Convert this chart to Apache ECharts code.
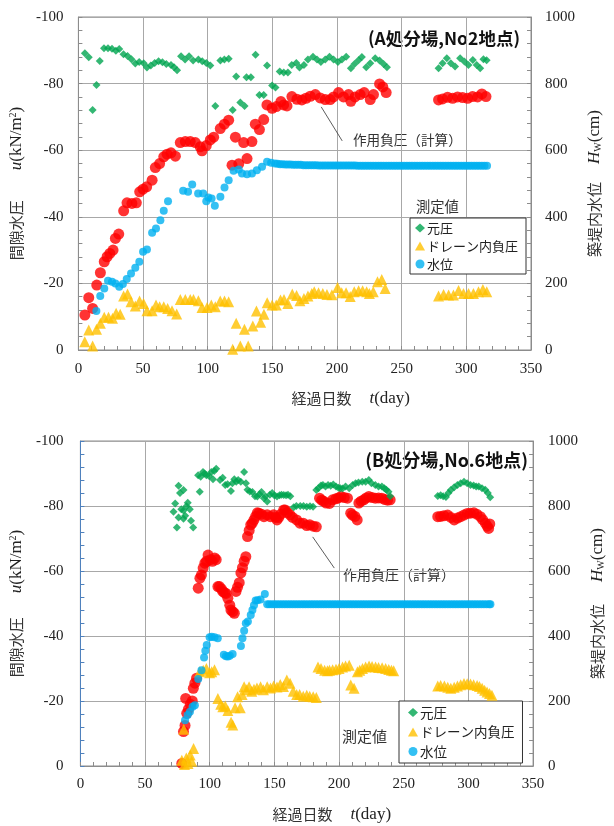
<!DOCTYPE html>
<html><head><meta charset="utf-8">
<script src="https://cdn.jsdelivr.net/npm/echarts@6/dist/echarts.min.js"></script>
<style>html,body{margin:0;padding:0;background:#fff}#c{width:614px;height:826px}</style>
</head><body><div id="c"></div>
<script>
// ---------- Panel A (top) : [day, value] ----------
const topGenatsu = [[5,-89.1],[8,-87.9],[11,-72.1],[14,-79.6],[16.5,-86.8],[19.8,-90.6],[22.9,-90.6],[26,-90.5],[29,-89.9],[31.6,-90.4],[34.9,-88.8],[38,-88.3],[41,-87.3],[44,-86],[47,-86.5],[50.5,-86.1],[53,-84.8],[56,-85.4],[59,-86.2],[62,-86.7],[65,-86.4],[68,-85.9],[71.6,-85.6],[74,-84.9],[76.3,-84],[79.4,-88.2],[82.5,-87.2],[85.6,-88.2],[88.7,-86.9],[92.8,-87.2],[95.8,-86.7],[98.9,-86.2],[102,-85.4],[105.9,-73.3],[109.8,-86.9],[112.9,-87.2],[116.2,-87.5],[119.3,-72.1],[122,-82.1],[125.2,-74.3],[128.5,-73.3],[130,-81.9],[133.4,-81.9],[137,-88.7],[140,-76.6],[143.3,-76.6],[145.9,-85.4],[149.8,-79.4],[152.4,-78.8],[155.7,-83.6],[158.8,-83.3],[162,-83.3],[165,-85.6],[168.5,-86.2],[171,-84.8],[174.4,-85.6],[177.5,-87.2],[181.4,-88.1],[184.5,-87.2],[187.5,-86.5],[190.9,-87.2],[194.2,-88.1],[197.3,-87.2],[200.7,-86.5],[203.8,-87.2],[207.1,-88.1],[210.7,-84.6],[213.5,-85.9],[216.6,-87],[219.2,-88],[222.6,-84.9],[225.7,-86.1],[229.5,-87.6],[232.9,-86.9],[236,-85.9],[238.6,-84.9],[278.5,-84.6],[281.6,-86.1],[284.9,-87.6],[288,-86.1],[291.3,-85.1],[295.2,-87.6],[298.5,-86.6],[301.6,-85.6],[305,-87.1],[308,-85.6],[310.7,-84.6],[313.2,-87.3],[315.7,-87]];
const topSayou = [[5,-10.5],[8,-15.7],[11,-12.5],[14.2,-19.5],[17,-23.2],[20,-26.5],[22.2,-28],[24.3,-29],[26.8,-30],[28.6,-33.5],[31.2,-34.8],[35,-41.8],[37.6,-44.2],[41.4,-44],[44.8,-44.2],[47.4,-47.5],[50,-48.3],[52.8,-49],[57,-51],[59.5,-54.8],[62.8,-56],[66,-58],[68.6,-58.8],[71.6,-59.2],[75,-58.2],[78.8,-62.3],[82.7,-62.6],[86.5,-62.6],[90.4,-62.3],[94.2,-61],[95.6,-59.8],[98.9,-61.4],[102,-63.1],[104.6,-63.9],[109.7,-66.5],[112.9,-67.8],[116.2,-69],[118.8,-55.5],[121.4,-63.9],[124,-55.9],[127.8,-62.3],[130.4,-57.5],[134.2,-62.6],[136.8,-67.8],[140,-66.2],[143.3,-69.2],[145.8,-73.6],[149.8,-72.6],[153.1,-73.1],[156.6,-74.6],[158.7,-73.6],[161.3,-73.3],[165.1,-76.1],[169,-75.3],[172.8,-75.1],[176,-75.6],[179.3,-76.2],[183.2,-76.7],[187,-75.7],[190.9,-75.2],[194.7,-75.2],[197.3,-76],[201.2,-77.3],[205,-76],[208.9,-76.7],[210.7,-74.7],[213.9,-76],[217.9,-76.7],[221,-77.3],[225.7,-75.2],[228.2,-76.7],[232.9,-79.9],[235.4,-79],[238,-77.3],[278.5,-75.1],[281.6,-75.4],[285.5,-75.9],[289.4,-75.6],[293.2,-76],[297.1,-75.8],[301,-75.6],[304.8,-76.1],[308.7,-76],[312,-76.9],[315.2,-76.1]];
const topDrain = [[4.9,-2.5],[8,-6],[11,-1.2],[14,-6.2],[17,-8],[20,-9.8],[23.3,-9.8],[26.4,-9.5],[29.2,-11],[32.3,-10.7],[35,-16.2],[38,-16.8],[40.7,-14.5],[44,-13.2],[47.3,-14.7],[50.4,-14],[53,-11.8],[57,-11.8],[60,-13.5],[62.8,-13],[66,-13],[69,-12.5],[72.4,-11.8],[76,-10.8],[78.8,-15.2],[82.7,-15.2],[86.5,-15.2],[89,-15.2],[92.8,-14.8],[95.6,-12.8],[99.5,-12.8],[102.8,-13.5],[105.9,-13],[109.7,-14.7],[113,-14.7],[116.2,-14.5],[119.3,-0.2],[122,-8],[125.2,-1.2],[128.4,-6.2],[131.3,-1.2],[134.9,-7.2],[137.7,-11.7],[140.9,-8.3],[143.5,-10.7],[146,-14.2],[149.8,-13.5],[153,-13.5],[156.3,-15],[159,-15.2],[162,-14],[165.4,-16.8],[168.7,-16.4],[171.3,-14.8],[174.4,-15.5],[177.5,-16.2],[180.5,-17],[182.4,-17.5],[185.7,-17.2],[189,-17],[192.2,-16.7],[196,-16.6],[200.4,-18.8],[203.6,-17.2],[207,-17.2],[210.2,-16.1],[213.3,-17.5],[216.7,-17.8],[219.8,-17.8],[222.9,-17.5],[225,-17],[228,-17.5],[231.3,-20.5],[234.6,-21.2],[237.2,-18.5],[278.5,-16.2],[282.4,-16.7],[286.3,-16.5],[290,-16.5],[294,-17.9],[297.8,-17],[301.7,-17],[305.5,-17],[309.4,-17.5],[312.8,-18.2],[315.8,-17.5]];
const topSuii = [[13.9,117],[16.9,162],[20,185],[22.9,208],[26,205],[28.6,200],[31.6,190],[34.4,198],[37.4,213],[40.7,230],[44,247],[47.1,265],[50,295],[53,302],[57,352],[60,365],[63.4,390],[66,418],[69.3,447],[81,478],[84.8,475],[88,497],[92.6,470],[96.5,470],[98.9,447],[100.5,458],[103,455],[105.5,433],[109.8,460],[113,488],[116.2,510],[120,538],[124,542],[126.5,530],[130.4,528],[134.2,530],[138,540],[142,550],[145.9,565],[149,562],[152,560],[154,559],[156,558],[158,558],[160,557],[162,557],[164,557],[166,556],[168,556],[170,556],[172,556],[174,555],[176,555],[178,555],[180,555],[182,555],[184,555],[186,554],[188,554],[190,554],[192,554],[194,554],[196,554],[198,554],[200,554],[202,554],[204,554],[206,554],[208,554],[210,554],[212,554],[214,554],[216,553],[218,553],[220,553],[222,553],[224,553],[226,553],[228,553],[230,553],[232,553],[234,553],[236,553],[238,553],[240,553],[242,553],[244,553],[246,553],[248,553],[250,553],[252,553],[254,553],[256,553],[258,553],[260,553],[262,553],[264,553],[266,553],[268,553],[270,553],[272,553],[274,553],[276,553],[278,553],[280,553],[282,553],[284,553],[286,553],[288,553],[290,553],[292,553],[294,553],[296,553],[298,553],[300,553],[302,553],[304,553],[306,553],[308,553],[310,553],[312,553],[314,553],[316,553]];

// ---------- Panel B (bottom) ----------
const botGenatsu = [[72,-78.2],[73.3,-80.8],[74.6,-73.4],[75.9,-86.2],[75.9,-76.5],[77,-84],[78,-79],[79.7,-84.9],[79.7,-78.6],[79.7,-76.1],[81,-77],[82,-79.9],[83,-81],[84.6,-79],[85.5,-75.5],[87.2,-73.4],[92.3,-84.4],[91,-89.5],[93,-89],[94.8,-90.5],[96,-90],[97.4,-89.5],[99.5,-89.2],[101.2,-90.5],[102.5,-88.2],[103.5,-90.8],[105,-91.5],[108,-88],[110,-88.7],[112,-86.5],[113.8,-86.7],[116.4,-84.6],[117.5,-87],[119,-88.2],[120.5,-87.5],[122,-88],[124,-87.5],[126.6,-90.5],[128,-87],[129.2,-85],[131,-84.5],[133,-84.3],[135,-83],[136.8,-82.9],[138.5,-83.6],[140,-84.3],[141.9,-82.4],[143,-83],[144.4,-81.4],[146.5,-83.5],[148.3,-84],[150,-83.2],[152,-82.9],[154,-83.3],[155.5,-83.5],[157.2,-83.4],[159,-83.3],[160.5,-83.5],[162.3,-83],[164.9,-79.6],[167,-80],[170,-80],[172.5,-80],[175,-79.8],[177.5,-79.9],[179.9,-79.8],[182.4,-84.9],[184,-85.5],[186,-86.3],[187.5,-86.5],[189.5,-86],[191.5,-86.5],[193.5,-86.2],[195.5,-86.6],[197.6,-86],[199.5,-85.6],[201,-85.5],[202.7,-85.4],[205,-86],[207.8,-85.5],[210.5,-86.5],[212.8,-87],[215,-87.2],[217.9,-87.5],[220.5,-87.5],[223,-88],[225,-87],[228,-86.5],[230.5,-86],[233.1,-86],[235,-85.5],[236.5,-85],[238.2,-84.4],[239.5,-83],[276.3,-83.1],[278.5,-83.3],[280.5,-83],[282.6,-82.8],[284.5,-84],[286.4,-84.9],[289,-85.8],[291.5,-86.5],[294,-87],[296.6,-87.5],[299,-87],[301.6,-86.5],[304,-86.3],[306,-86],[308,-86],[310.5,-85.5],[313,-85],[315,-84],[316.8,-82.7]];
const botSayou = [[78.4,-0.8],[79.7,-10.6],[80.9,-12.5],[81.4,-20.8],[82.2,-16.2],[83.5,-17.5],[85,-19],[86.5,-20],[87.3,-23.9],[88.5,-25.5],[89.8,-27],[91.1,-54.7],[92.4,-57.8],[93.6,-58.8],[94.9,-60.9],[96.2,-62.4],[97.5,-63],[98.7,-64.9],[100.5,-63.5],[102,-63],[103.8,-64],[105,-63.5],[106.3,-55.2],[107.5,-55.2],[109,-54.5],[110.1,-53.7],[111.5,-53.3],[112.6,-53.1],[114,-51.6],[115.5,-49.5],[116.4,-48],[117.8,-47.5],[119,-47],[120.3,-53.7],[121.5,-55],[122.8,-56.4],[124.1,-59.4],[125.3,-61],[126.6,-63],[127.9,-64.4],[129.2,-70.6],[130.5,-72.5],[131.7,-74.2],[132.9,-74.7],[134.2,-75.7],[135.5,-76.8],[136.8,-77.9],[138,-77.8],[140,-77.5],[141.9,-76.7],[144.4,-77.3],[146.9,-76.7],[149.4,-77.3],[151,-76.5],[152,-75.7],[153.3,-76.5],[155,-77.5],[157.2,-78.8],[158.3,-78.8],[160,-78],[162.1,-77.3],[164,-76.5],[167.2,-75.7],[169.7,-74.7],[172.3,-74.7],[175,-74],[177.3,-74.2],[180,-73.8],[182.4,-73.6],[184.9,-82.4],[186.5,-81.8],[188,-81.5],[190,-80.9],[192.6,-80.8],[195,-81.9],[197.5,-82.2],[199.5,-82.5],[201.4,-82.9],[204,-82.6],[206.5,-82.4],[209,-77.8],[210.3,-77.2],[212.3,-76.8],[214,-75.7],[215.3,-80.9],[217,-81.5],[219.1,-81.9],[221,-82.5],[223,-82.9],[225.5,-82.6],[228,-82.4],[230.5,-82.5],[233.1,-82.4],[235.5,-82],[237.5,-81.8],[239.5,-81.9],[276.3,-76.7],[278.5,-76.8],[281,-77],[283.9,-77.2],[286.5,-76.5],[289,-75.7],[291.5,-76.3],[294,-76.7],[296.5,-77.2],[299.1,-77.7],[301.5,-77.8],[304.2,-77.9],[306.5,-77.5],[309.3,-76.7],[311,-75.8],[313.1,-74.7],[314.5,-73.8],[315.6,-73.1],[316.5,-74.5]];
const botDrain = [[78.4,-1.8],[79.9,-11.3],[80.5,-0.5],[81.9,-2.5],[83.2,-0.8],[84.9,-3.4],[86,-1.5],[87.5,-5.4],[92.3,-29],[95,-29.5],[97.4,-30],[99.9,-28.7],[101.5,-29],[103.7,-29.6],[106.3,-20.8],[108.5,-19],[110.1,-18.2],[112,-18.5],[114,-17.1],[116.5,-13.5],[117.8,-12.6],[119.6,-17.9],[121.5,-21.3],[123.6,-17.9],[125,-22],[126.6,-24.4],[128.5,-23.5],[130.4,-24.4],[132.5,-23],[134.2,-23.6],[136.5,-24],[139.3,-24.4],[141.5,-23.5],[144.4,-24.4],[147,-24],[149.4,-24.6],[152,-24.3],[154.5,-25.1],[157,-24.5],[159.6,-26.5],[162.1,-25.5],[164.5,-23],[167.2,-22],[169.5,-22],[172.3,-21.5],[175,-21.8],[177.3,-21.5],[180,-21.3],[182.4,-21.1],[183.7,-30.5],[186,-30],[188.8,-29.5],[191,-29.3],[192.6,-29.5],[195,-29.6],[197.6,-29.8],[200,-30],[202.7,-30.5],[205,-30.8],[207.8,-31],[209,-24.9],[211.6,-23.9],[214.2,-29],[216,-29.5],[218.1,-30],[220.5,-30.5],[223.2,-30.8],[225.5,-30.6],[228.2,-30.5],[230.5,-30.3],[233.3,-30.2],[236,-30],[238.4,-29.7],[240.5,-29.5],[242.2,-29.3],[276.3,-24.6],[278.5,-24.8],[281.4,-24.6],[284,-24.2],[286.4,-23.9],[289,-24.2],[291.5,-24.6],[294,-25],[296.6,-25.4],[299,-25.3],[301.6,-25.2],[304,-25],[306.7,-24.8],[308.5,-24.5],[310.6,-23.9],[312.5,-23.3],[314.4,-22.8],[316.3,-22.3],[318.2,-21.8]];
const botSuii = [[80.9,141],[82.9,157],[84.7,167],[86.7,182],[88.5,187],[91.1,268],[93.6,295],[95.6,334],[96.6,355],[97.7,372],[99.9,396],[101.5,398],[103.7,396],[106.2,393],[110.9,342],[112.5,338],[114,337],[115.5,339],[117.7,345],[124.1,369],[125.3,393],[126.6,416],[127.9,439],[129.5,445],[131.7,465],[133,480],[134.2,495],[135.5,509],[137,510],[139.3,512],[142.6,529],[144.4,498],[146,498],[148,498],[150,498],[152,498],[154,498],[156,498],[158,498],[160,498],[162,498],[164,498],[166,498],[168,498],[170,498],[172,498],[174,498],[176,498],[178,498],[180,498],[182,498],[184,498],[186,498],[188,498],[190,498],[192,498],[194,498],[196,498],[198,498],[200,498],[202,498],[204,498],[206,498],[208,498],[210,498],[212,498],[214,498],[216,498],[218,498],[220,498],[222,498],[224,498],[226,498],[228,498],[230,498],[232,498],[234,498],[236,498],[238,498],[240,498],[242,498],[244,498],[246,498],[248,498],[250,498],[252,498],[254,498],[256,498],[258,498],[260,498],[262,498],[264,498],[266,498],[268,498],[270,498],[272,498],[274,498],[276,498],[278,498],[280,498],[282,498],[284,498],[286,498],[288,498],[290,498],[292,498],[294,498],[296,498],[298,498],[300,498],[302,498],[304,498],[306,498],[308,498],[310,498],[312,498],[314,498],[316,498],[317,498]];

// annotation arrows (data coords: [day, u])
const topArrow = [[204,-62.8],[187.8,-73]];
const botArrow = [[196.3,-60.9],[179.6,-70.5]];

const names = { gen:'元圧', drain:'ドレーン内負圧', suii:'水位', sayou:'作用負圧（計算）' };
const colors = { gen:'#00A550', drain:'#FFC000', suii:'#00B0F0', sayou:'#FF0000' };

const JP = 'Noto Sans CJK JP';
const SERIF = 'Liberation Serif';
const plainNum = v => String(v);

function xAxisCfg(gi, labelMargin, pad) {
  return {
    gridIndex: gi, type:'value', min:0, max:350, interval:50,
    axisLine:{show:true, lineStyle:{color:'#8c8c8c', width:1}},
    axisTick:{show:true, inside:true, length:4, lineStyle:{color:'#8c8c8c'}},
    minorTick:{show:true, splitNumber:5, length:4, lineStyle:{color:'#8c8c8c'}},
    splitLine:{show:true, lineStyle:{color:'#a8a8a8', width:1}},
    axisLabel:{fontFamily:SERIF, fontSize:15, color:'#222', margin:labelMargin, formatter:plainNum},
    name:'{jp|経過日数}{g| }{it|t}{rm|(day)}', nameLocation:'middle', nameGap:40,
    nameTextStyle:{ padding:pad, rich:{
      jp:{fontFamily:JP, fontSize:15, color:'#333'}, g:{width:18},
      it:{fontFamily:SERIF, fontSize:17, fontStyle:'italic', color:'#222'},
      rm:{fontFamily:SERIF, fontSize:17, color:'#222'} } }
  };
}
function leftYCfg(gi, lineColor, gap, gapW, margin) {
  return {
    gridIndex: gi, type:'value', min:-100, max:0, interval:20, inverse:true,
    axisLine:{show:true, lineStyle:{color:lineColor, width:1}},
    axisTick:{show:true, inside:true, length:4, lineStyle:{color:lineColor}},
    minorTick:{show:true, splitNumber:5, length:4, lineStyle:{color:lineColor}},
    splitLine:{show:true, lineStyle:{color:'#a8a8a8', width:1}},
    axisLabel:{fontFamily:SERIF, fontSize:15, color:'#222', margin:margin, formatter:plainNum},
    name:'{jp|間隙水圧}{g| }{it|u}{rm|(kN/m}{sup|2}{rm|)}', nameLocation:'middle', nameRotate:90, nameGap:gap,
    nameTextStyle:{ rich:{
      jp:{fontFamily:JP, fontSize:15, color:'#333'}, g:{width:gapW},
      it:{fontFamily:SERIF, fontSize:17, fontStyle:'italic', color:'#222'},
      rm:{fontFamily:SERIF, fontSize:17, color:'#222'},
      sup:{fontFamily:SERIF, fontSize:10, color:'#222', verticalAlign:'top'} } }
  };
}
function rightYCfg(gi, gap, gapW, margin) {
  return {
    gridIndex: gi, type:'value', min:0, max:1000, interval:200, position:'right',
    axisLine:{show:true, lineStyle:{color:'#8c8c8c', width:1}},
    axisTick:{show:true, inside:true, length:4, lineStyle:{color:'#8c8c8c'}},
    minorTick:{show:true, splitNumber:5, length:4, lineStyle:{color:'#8c8c8c'}},
    splitLine:{show:false},
    axisLabel:{fontFamily:SERIF, fontSize:15, color:'#222', margin:margin, formatter:plainNum},
    name:'{jp|築堤内水位}{g| }{it|H}{sub|W}{rm|(cm)}', nameLocation:'middle', nameRotate:90, nameGap:gap,
    nameTextStyle:{ rich:{
      jp:{fontFamily:JP, fontSize:15, color:'#333'}, g:{width:gapW},
      it:{fontFamily:SERIF, fontSize:17, fontStyle:'italic', color:'#222'},
      sub:{fontFamily:SERIF, fontSize:10, color:'#222', verticalAlign:'bottom'},
      rm:{fontFamily:SERIF, fontSize:17, color:'#222'} } }
  };
}
function panelSeries(xi, yl, yr, sayou, gen, drain, suii, arrow) {
  return [
    { name:names.sayou, type:'scatter', xAxisIndex:xi, yAxisIndex:yl, data:sayou, symbol:'circle', symbolSize:11,
      itemStyle:{color:colors.sayou}, z:2,
      markLine:{ silent:true, symbol:['none','arrow'], symbolSize:[0,7], label:{show:false},
        lineStyle:{color:'#333', width:0.8, type:'solid'},
        data:[[{coord:arrow[0]},{coord:arrow[1]}]] } },
    { name:names.gen, type:'scatter', xAxisIndex:xi, yAxisIndex:yl, data:gen, symbol:'diamond', symbolSize:8,
      itemStyle:{color:colors.gen}, z:3 },
    { name:names.drain, type:'scatter', xAxisIndex:xi, yAxisIndex:yl, data:drain, symbol:'triangle', symbolSize:11,
      itemStyle:{color:colors.drain}, z:4 },
    { name:names.suii, type:'scatter', xAxisIndex:xi, yAxisIndex:yr, data:suii, symbol:'circle', symbolSize:8,
      itemStyle:{color:colors.suii}, z:5 }
  ];
}
function legendCfg(left, top, pad, lh, gap, fs) {
  return {
    left:left, top:top, orient:'vertical', selectedMode:false,
    itemWidth:10, itemHeight:9, itemGap:gap, padding:pad,
    borderColor:'#333', borderWidth:1, backgroundColor:'#fff',
    textStyle:{fontFamily:JP, fontSize:fs, lineHeight:lh, color:'#222', padding:[0,0,0,-3]},
    data:[{name:names.gen, icon:'diamond'},{name:names.drain, icon:'triangle'},{name:names.suii, icon:'circle'}]
  };
}
function txt(x, y, text, size, opts) {
  return Object.assign({ type:'text', x:x, y:y, silent:true,
    style:{ text:text, fontFamily:JP, fontSize:size, fill:'#333', align:'left', verticalAlign:'middle' } }, opts||{});
}

const chart = echarts.init(document.getElementById('c'), null, {renderer:'canvas'});
const option = {
  animation:false,
  backgroundColor:'#fff',
  grid:[
    {left:78, top:17, width:453, height:333, show:true, borderColor:'#8c8c8c', borderWidth:1, backgroundColor:'transparent'},
    {left:77, top:441, width:460, height:325, show:true, borderColor:'#8c8c8c', borderWidth:1, backgroundColor:'transparent'}
  ],
  xAxis:[ xAxisCfg(0, 12, [0,0,0,92]), xAxisCfg(1, 11, [0,0,0,50]) ],
  yAxis:[ leftYCfg(0, '#8c8c8c', 40, 30, 15), rightYCfg(0, 46, 18, 14),
          leftYCfg(1, '#4f81bd', 46, 24, 17), rightYCfg(1, 50, 22, 15) ],
  legend:[ legendCfg(410, 218, [3,8,3,5], 14, 4, 13), legendCfg(399, 701, [4,8,4,9], 15, 4.5, 13.5) ],
  graphic:[
    txt(416, 207, '測定値', 14.3),
    txt(342, 736, '測定値', 15),
    { type:'text', x:520, y:38, silent:true, style:{text:'(A処分場,No2地点)', fontFamily:JP, fontWeight:'bold', fontSize:17.5, fill:'#111', align:'right', verticalAlign:'middle'} },
    { type:'text', x:528, y:460, silent:true, style:{text:'(B処分場,No.6地点)', fontFamily:JP, fontWeight:'bold', fontSize:18, fill:'#111', align:'right', verticalAlign:'middle'} },
    txt(353, 140, '作用負圧（計算）', 13.6, {}),
    txt(343, 575, '作用負圧（計算）', 14, {})
  ],
  series:[].concat(
    panelSeries(0, 0, 1, topSayou, topGenatsu, topDrain, topSuii, topArrow),
    panelSeries(1, 2, 3, botSayou, botGenatsu, botDrain, botSuii, botArrow)
  )
};
chart.setOption(option);
</script>
</body></html>
